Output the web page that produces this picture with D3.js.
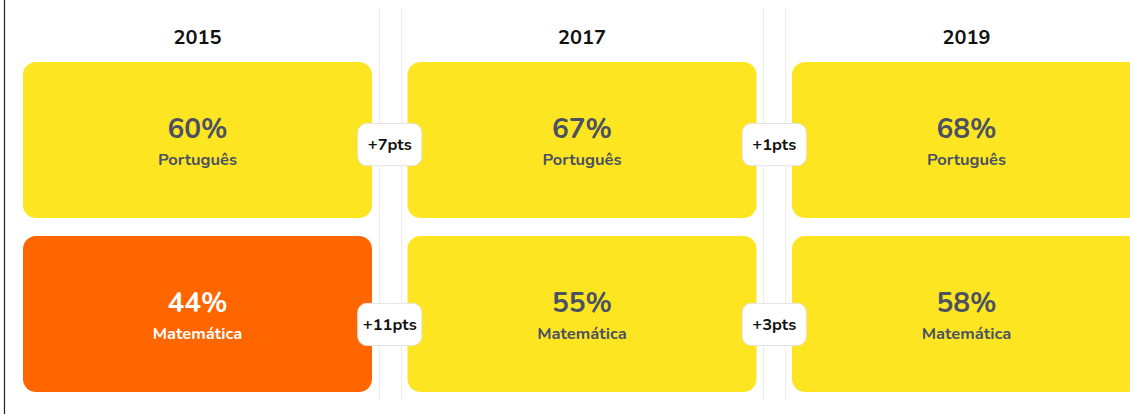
<!DOCTYPE html>
<html>
<head>
<meta charset="utf-8">
<script src="https://cdn.jsdelivr.net/npm/d3@7"></script>
<style>
  html, body { margin: 0; padding: 0; background: #fff; }
  svg { display: block; font-family: "Nunito", Lato, "Noto Sans", sans-serif; }
</style>
</head>
<body>
<div id="chart"></div>
<script>
var years = ["2015", "2017", "2019"];
var subjects = ["Português", "Matemática"];
var portugues = [60, 67, 68];
var matematica = [44, 55, 58];
var highlightBelow = 50;

var width = 1130, height = 414;

var svg = d3.select("#chart").append("svg")
    .attr("width", width)
    .attr("height", height);

var x = d3.scaleBand()
    .domain(years)
    .range([23, 1141])
    .paddingInner(0.0923)
    .paddingOuter(0);

var y = d3.scaleBand()
    .domain(subjects)
    .range([62, 392])
    .paddingInner(0.1034)
    .paddingOuter(0);

// badges sit a little lower than the card centres
var yBadge = d3.scaleBand()
    .domain(subjects)
    .range([123, 346])
    .paddingInner(0.76)
    .paddingOuter(0);

var rows = [portugues, matematica];
var cells = [];
subjects.forEach(function(s, i) {
  years.forEach(function(yr, j) {
    cells.push({ subject: s, year: yr, value: rows[i][j] });
  });
});

var changes = [];
subjects.forEach(function(s, i) {
  for (var j = 1; j < years.length; j++) {
    changes.push({ subject: s, from: years[j - 1], diff: rows[i][j] - rows[i][j - 1] });
  }
});

// left frame line
svg.append("line")
    .attr("x1", 4.5).attr("x2", 4.5)
    .attr("y1", 0).attr("y2", height)
    .attr("stroke", "#222")
    .attr("stroke-width", 1.2);

// column separators
var gap = x.step() - x.bandwidth();
years.slice(0, -1).forEach(function(yr) {
  var edge = x(yr) + x.bandwidth();
  [edge + 6.5, edge + gap - 6.5].forEach(function(px) {
    svg.append("line")
        .attr("x1", Math.round(px) + 0.5).attr("x2", Math.round(px) + 0.5)
        .attr("y1", 8).attr("y2", 400)
        .attr("stroke", "#ececec")
        .attr("stroke-width", 1);
  });
});

// year titles
svg.selectAll(".year")
    .data(years)
  .enter().append("text")
    .attr("class", "year")
    .attr("x", function(d) { return x(d) + x.bandwidth() / 2; })
    .attr("y", 44)
    .attr("text-anchor", "middle")
    .attr("font-size", 20)
    .attr("font-weight", 700)
    .attr("fill", "#111")
    .text(function(d) { return d; });

var card = svg.selectAll(".card")
    .data(cells)
  .enter().append("g")
    .attr("class", "card")
    .attr("transform", function(d) { return "translate(" + x(d.year) + "," + y(d.subject) + ")"; });

card.append("rect")
    .attr("width", x.bandwidth())
    .attr("height", y.bandwidth())
    .attr("rx", 13)
    .attr("fill", function(d) { return d.value < highlightBelow ? "#ff6600" : "#fde621"; });

card.append("text")
    .attr("x", x.bandwidth() / 2)
    .attr("y", 76)
    .attr("text-anchor", "middle")
    .attr("font-size", 28)
    .attr("font-weight", 700)
    .attr("fill", function(d) { return d.value < highlightBelow ? "#fff" : "#4b5161"; })
    .text(function(d) { return d.value + "%"; });

card.append("text")
    .attr("x", x.bandwidth() / 2)
    .attr("y", 103)
    .attr("text-anchor", "middle")
    .attr("font-size", 16.5)
    .attr("font-weight", 700)
    .attr("fill", function(d) { return d.value < highlightBelow ? "#fff" : "#4b5161"; })
    .text(function(d) { return d.subject; });

// change badges
var bw = 65;
var badge = svg.selectAll(".badge")
    .data(changes)
  .enter().append("g")
    .attr("class", "badge")
    .attr("transform", function(d) {
      var cx = x(d.from) + x.bandwidth() + gap / 2;
      return "translate(" + (cx - bw / 2) + "," + yBadge(d.subject) + ")";
    });

badge.append("rect")
    .attr("x", 0.5).attr("y", 0.5)
    .attr("width", bw - 1)
    .attr("height", yBadge.bandwidth() - 1)
    .attr("rx", 9)
    .attr("fill", "#fff")
    .attr("stroke", "#e3e3e3")
    .attr("stroke-width", 1);

badge.append("text")
    .attr("x", bw / 2)
    .attr("y", yBadge.bandwidth() / 2 + 5.5)
    .attr("text-anchor", "middle")
    .attr("font-size", 16.5)
    .attr("font-weight", 700)
    .attr("fill", "#111")
    .text(function(d) { return (d.diff >= 0 ? "+" : "") + d.diff + "pts"; });
</script>
</body>
</html>
